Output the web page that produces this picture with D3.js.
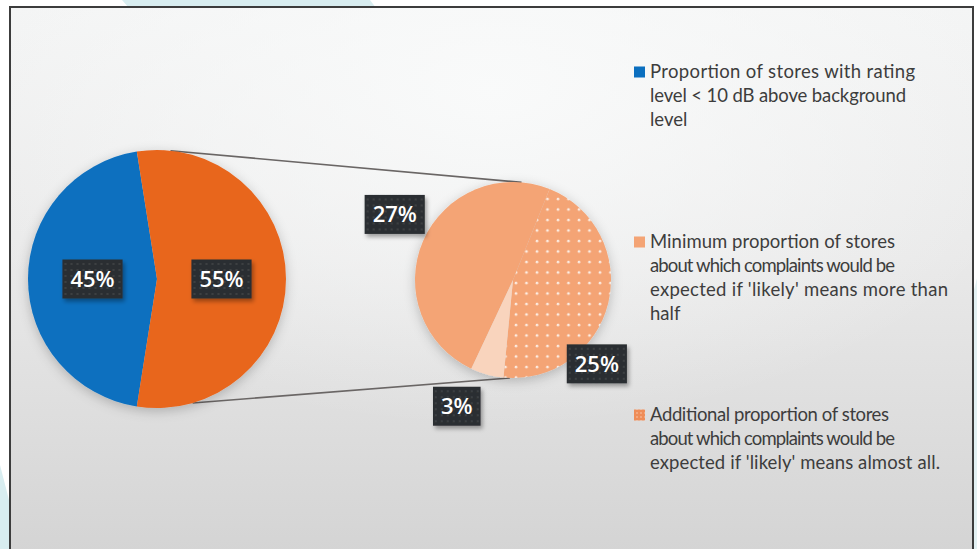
<!DOCTYPE html>
<html><head><meta charset="utf-8">
<script src="https://cdn.jsdelivr.net/npm/d3@7"></script>
<style>html,body{margin:0;padding:0;background:#fff;overflow:hidden}</style>
</head><body><svg id="c" width="977" height="549"></svg>
<script>
// ---------------- data ----------------
const mainCategories = ["Rating level < 10 dB above background", "Rating level ≥ 10 dB above background"];
const mainValues = [45, 55];
const mainLabels = ["45%", "55%"];
const secondaryCategories = ["Minimum proportion", "Additional proportion", "Remainder"];
const secondaryValues = [27, 25, 3];
const secondaryLabels = ["27%", "25%", "3%"];
const legendLines = [
  ["Proportion of stores with rating", "level < 10 dB above background", "level"],
  ["Minimum proportion of stores", "about which complaints would be", "expected if 'likely' means more than", "half"],
  ["Additional proportion of stores", "about which complaints would be", "expected if 'likely' means almost all."]
];

// ---------------- layout / style ----------------
const W = 977, H = 549;
const rad = d => d * Math.PI / 180;
const mainC = {x: 157, y: 279, r: 129};
const secC = {x: 513, y: 280, r: 98};
const mainColors = ["#0b6fbf", "#e8661e"];
const secColors = ["#f4a475", "url(#dots)", "#f9d4bd"];
const legendSwatch = ["#0b6fbf", "#f4a475", "url(#dotsSmall)"];
const legendTop = [72, 242, 415];
const legendLineH = 24;
const legendWidths = [[265, 256, 38], [245, 245, 298, 37], [239, 245, 290]];
const secLabelPos = [{a: 299, d: 1.38}, {a: 135, d: 1.21}, {a: 204, d: 1.41}];

const svg = d3.select("#c");
const defs = svg.append("defs");

const bg = defs.append("linearGradient").attr("id", "bg").attr("x1", 0).attr("y1", 0).attr("x2", 0).attr("y2", 1);
bg.append("stop").attr("offset", 0).attr("stop-color", "#f3f4f4");
bg.append("stop").attr("offset", 0.45).attr("stop-color", "#e9e9e9");
bg.append("stop").attr("offset", 1).attr("stop-color", "#d3d3d3");
const glow = defs.append("radialGradient").attr("id", "glow").attr("cx", 0.5).attr("cy", 0.15).attr("r", 0.6);
glow.append("stop").attr("offset", 0).attr("stop-color", "#fafbfb").attr("stop-opacity", 0.9);
glow.append("stop").attr("offset", 1).attr("stop-color", "#fafbfb").attr("stop-opacity", 0);

const dots = defs.append("pattern").attr("id", "dots").attr("patternUnits", "userSpaceOnUse")
  .attr("width", 10.5).attr("height", 10.5);
dots.append("rect").attr("width", 10.5).attr("height", 10.5).attr("fill", "#f4a475");
dots.append("circle").attr("cx", 3).attr("cy", 3).attr("r", 1.3).attr("fill", "#fdeee4");
const dotsS = defs.append("pattern").attr("id", "dotsSmall").attr("patternUnits", "userSpaceOnUse")
  .attr("width", 4).attr("height", 4);
dotsS.append("rect").attr("width", 4).attr("height", 4).attr("fill", "#ef8d58");
dotsS.append("circle").attr("cx", 1).attr("cy", 1).attr("r", 0.7).attr("fill", "#fbd9c3");

const boxPat = defs.append("pattern").attr("id", "boxPat").attr("patternUnits", "userSpaceOnUse")
  .attr("width", 6).attr("height", 6);
boxPat.append("rect").attr("width", 6).attr("height", 6).attr("fill", "#2c2f32");
boxPat.append("circle").attr("cx", 3).attr("cy", 3).attr("r", 0.9).attr("fill", "#42464a");

const sh = defs.append("filter").attr("id", "shadow").attr("x", -0.3).attr("y", -0.3).attr("width", 1.6).attr("height", 1.6);
sh.append("feDropShadow").attr("dx", 0).attr("dy", 3).attr("stdDeviation", 6).attr("flood-color", "#000").attr("flood-opacity", 0.22);
const bsh = defs.append("filter").attr("id", "bshadow").attr("x", -0.3).attr("y", -0.3).attr("width", 1.6).attr("height", 1.6);
bsh.append("feDropShadow").attr("dx", 2).attr("dy", 3).attr("stdDeviation", 2).attr("flood-color", "#000").attr("flood-opacity", 0.35);

// outside decorations
svg.append("polygon").attr("points", "122,0 370,0 376,8 129,8").attr("fill", "#d8edf0");
svg.append("polygon").attr("points", "0,465 9,500 9,549 0,549").attr("fill", "#d8edf0");
svg.append("polygon").attr("points", "974,290 977,278 977,549 974,549").attr("fill", "#e3f1f3");

// frame
svg.append("rect").attr("x", 10).attr("y", 7).attr("width", 963).attr("height", 560).attr("fill", "url(#bg)");
svg.append("rect").attr("x", 10).attr("y", 7).attr("width", 963).attr("height", 560).attr("fill", "url(#glow)");
svg.append("rect").attr("x", 10).attr("y", 7).attr("width", 963).attr("height", 560)
  .attr("fill", "none").attr("stroke", "#3c3c3c").attr("stroke-width", 2);

// connector lines
const mTop = d3.pointRadial(rad(6), mainC.r), mBot = d3.pointRadial(rad(164), mainC.r);
const sTop = d3.pointRadial(rad(5), secC.r), sBot = d3.pointRadial(rad(182), secC.r);
svg.append("line").attr("x1", mainC.x + mTop[0]).attr("y1", mainC.y + mTop[1])
  .attr("x2", secC.x + sTop[0]).attr("y2", secC.y + sTop[1])
  .attr("stroke", "#6a6665").attr("stroke-width", 1.6);
svg.append("line").attr("x1", mainC.x + mBot[0]).attr("y1", mainC.y + mBot[1])
  .attr("x2", secC.x + sBot[0]).attr("y2", secC.y + sBot[1])
  .attr("stroke", "#6a6665").attr("stroke-width", 1.6);

// main pie
const mainPie = d3.pie().sort(null).startAngle(rad(189)).endAngle(rad(189 + 360));
const mainArcs = mainPie(mainValues);
const mainArc = d3.arc().innerRadius(0).outerRadius(mainC.r);
const gMain = svg.append("g").attr("transform", `translate(${mainC.x},${mainC.y})`).attr("filter", "url(#shadow)");
gMain.selectAll("path").data(mainArcs).join("path")
  .attr("d", mainArc).attr("fill", (d, i) => mainColors[i]);

// secondary pie
const secPie = d3.pie().sort(null).startAngle(rad(205.2)).endAngle(rad(205.2 + 360));
const secArcs = secPie(secondaryValues);
const secArc = d3.arc().innerRadius(0).outerRadius(secC.r);
const gSec = svg.append("g").attr("transform", `translate(${secC.x},${secC.y})`).attr("filter", "url(#shadow)");
gSec.selectAll("path").data(secArcs).join("path")
  .attr("d", secArc).attr("fill", (d, i) => secColors[i]);

// label boxes
function labelBox(cx, cy, text) {
  const g = svg.append("g").attr("transform", `translate(${cx},${cy})`);
  const r = g.append("rect").attr("fill", "url(#boxPat)").attr("filter", "url(#bshadow)");
  const t = g.append("text").text(text).attr("text-anchor", "middle").attr("dy", "0.36em")
    .attr("fill", "#ffffff").attr("font-family", "'Open Sans', sans-serif")
    .attr("font-weight", 600).attr("font-size", 22);
  const w = t.node().getComputedTextLength() + 16, h = 39;
  r.attr("x", -w / 2).attr("y", -h / 2).attr("width", w).attr("height", h);
}
mainArcs.forEach((d, i) => {
  const c = d3.arc().innerRadius(0).outerRadius(mainC.r).centroid(d);
  labelBox(mainC.x + c[0], mainC.y + c[1], mainLabels[i]);
});
secArcs.forEach((d, i) => {
  const p = d3.pointRadial(rad(secLabelPos[i].a), secC.r * secLabelPos[i].d);
  labelBox(secC.x + p[0], secC.y + p[1], secondaryLabels[i]);
});

// legend
const gLeg = svg.append("g");
legendLines.forEach((lines, i) => {
  gLeg.append("rect").attr("x", 634).attr("y", legendTop[i] - 5.5).attr("width", 11).attr("height", 11)
    .attr("fill", legendSwatch[i]);
  lines.forEach((ln, j) => {
    const t = gLeg.append("text").attr("x", 650).attr("y", legendTop[i] + j * legendLineH).attr("dy", "0.35em")
      .attr("font-family", "Lato, 'Open Sans', sans-serif").attr("font-size", 18.5).attr("fill", "#3d3d3d")
      .text(ln);
    if (legendWidths[i][j] > 100) {
      t.attr("textLength", legendWidths[i][j]).attr("lengthAdjust", "spacing");
    }
  });
});
</script></body></html>
